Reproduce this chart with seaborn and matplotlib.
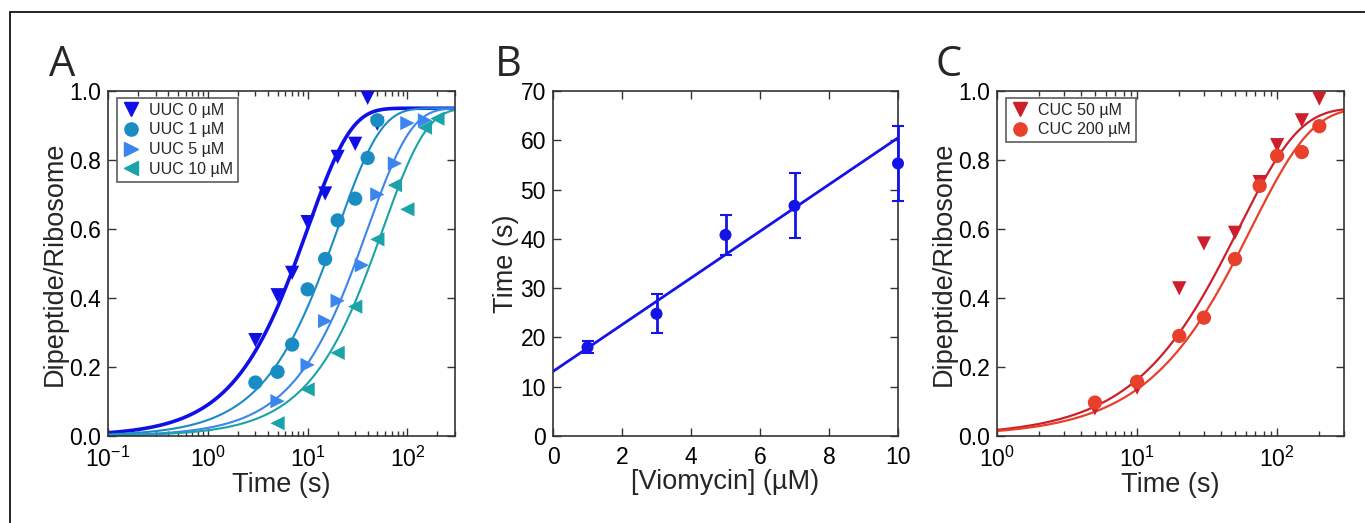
import numpy as np
import pandas as pd
import matplotlib
matplotlib.use("Agg")
import matplotlib.pyplot as plt
from matplotlib.lines import Line2D
from matplotlib.ticker import LogLocator, NullFormatter, MultipleLocator
import seaborn as sns

# ---------------- data ----------------
# Panel A: dipeptide formation at UUC codon with viomycin
uuc0_t = [3, 5, 7, 10, 15, 20, 30, 40, 50]
uuc0_y = [0.278, 0.408, 0.473, 0.620, 0.703, 0.809, 0.847, 0.980, 0.905]
uuc1_t = [3, 5, 7, 10, 15, 20, 30, 40, 50]
uuc1_y = [0.155, 0.186, 0.265, 0.425, 0.513, 0.625, 0.688, 0.806, 0.915]
uuc5_t = [5, 10, 15, 20, 35, 50, 75, 100, 150]
uuc5_y = [0.101, 0.206, 0.333, 0.392, 0.495, 0.700, 0.790, 0.907, 0.915]
uuc10_t = [5, 10, 20, 30, 50, 75, 100, 150, 200]
uuc10_y = [0.037, 0.135, 0.241, 0.375, 0.570, 0.727, 0.657, 0.894, 0.920]
# fitted single-exponential time constants (s) and plateau
uuc_tau = [10.0, 20.0, 40.0, 57.0]
plateau = 0.95

# Panel B: time constant vs viomycin concentration
vio_conc = [1, 3, 5, 7, 10]
vio_time = [18.0, 24.8, 40.8, 46.7, 55.3]
vio_err = [1.2, 4.0, 4.0, 6.6, 7.6]
fit_intercept = 13.1
fit_slope = 4.74

# Panel C: near-cognate CUC codon
cuc50_t = [5, 10, 20, 30, 50, 75, 100, 150, 200]
cuc50_y = [0.080, 0.140, 0.428, 0.558, 0.589, 0.736, 0.843, 0.915, 0.978]
cuc200_t = [5, 10, 20, 30, 50, 75, 100, 150, 200]
cuc200_y = [0.097, 0.157, 0.290, 0.343, 0.513, 0.725, 0.812, 0.823, 0.898]
cuc_tau = [53.0, 65.0]

# ---------------- style ----------------
sns.set_theme(style="ticks")
plt.rcParams["font.family"] = ["Liberation Sans", "DejaVu Sans"]
plt.rcParams.update({
    "mathtext.fontset": "custom",
    "mathtext.rm": "Liberation Sans",
    "mathtext.it": "Liberation Sans:italic",
    "mathtext.bf": "Liberation Sans:bold",
    "axes.unicode_minus": False,
    "xtick.direction": "in", "ytick.direction": "in",
    "xtick.top": True, "ytick.right": True,
    "xtick.major.size": 6, "ytick.major.size": 6,
    "xtick.minor.size": 3.5, "ytick.minor.size": 3.5,
    "xtick.major.width": 1.0, "ytick.major.width": 1.0,
    "xtick.minor.width": 1.0, "ytick.minor.width": 1.0,
    "xtick.color": "#333333", "ytick.color": "#333333",
    "xtick.labelcolor": "black", "ytick.labelcolor": "black",
    "axes.edgecolor": "#333333", "axes.linewidth": 1.2,
})

fig = plt.figure(figsize=(13.65, 5.23), dpi=100)
W, H = 1365, 523


def add_axes(x0, x1):
    return fig.add_axes([x0 / W, 1 - 436 / H, (x1 - x0) / W, (436 - 91) / H])


axA = add_axes(108, 455)
axB = add_axes(553, 898)
axC = add_axes(997, 1344)

TICK_FS = 16.5
LABEL_FS = 19.5
MS = 105


def expo(t, tau):
    t = np.asarray(t, dtype=float)
    return plateau * (1 - np.exp(-t / tau))


def style_log_axis(ax, xmin, xmax):
    ax.set_xscale("log")
    ax.set_xlim(xmin, xmax)
    ax.set_ylim(0, 1.0)
    ax.xaxis.set_major_locator(LogLocator(base=10, numticks=10))
    ax.xaxis.set_minor_locator(LogLocator(base=10, subs=np.arange(2, 10), numticks=20))
    ax.xaxis.set_minor_formatter(NullFormatter())
    ax.yaxis.set_major_locator(MultipleLocator(0.2))
    ax.set_yticklabels([f"{v:.1f}" for v in ax.get_yticks()])
    ax.tick_params(axis="x", labelsize=TICK_FS, pad=7.5)
    ax.tick_params(axis="y", labelsize=TICK_FS, pad=5)
    ax.set_xlabel("Time (s)", fontsize=LABEL_FS, labelpad=0)
    ax.set_ylabel("Dipeptide/Ribosome", fontsize=LABEL_FS, labelpad=1)


def add_legend(ax, marks, cols, labels):
    handles = [Line2D([], [], ls="none", marker=m, color=c, markersize=9.5)
               for m, c in zip(marks, cols)]
    leg = ax.legend(handles, labels, loc="upper left", fontsize=11.5, frameon=True,
                    fancybox=False, edgecolor="#333333", handletextpad=0.5,
                    borderpad=0.3, labelspacing=0.3, handlelength=1.2,
                    borderaxespad=0, bbox_to_anchor=(0.026, 0.98))
    leg.get_frame().set_linewidth(1.2)
    return leg


# ---------------- panel A ----------------
colA = ["#1010e6", "#1a8cc4", "#3a86ee", "#1aa3a8"]
markA = ["v", "o", ">", "<"]
labA = ["UUC 0 \u00b5M", "UUC 1 \u00b5M", "UUC 5 \u00b5M", "UUC 10 \u00b5M"]
setsA = [(uuc0_t, uuc0_y), (uuc1_t, uuc1_y), (uuc5_t, uuc5_y), (uuc10_t, uuc10_y)]
tA = np.logspace(-1, np.log10(300), 400)
lwA = [2.6, 1.5, 1.5, 1.5]
for c, tau, lw in zip(colA, uuc_tau, lwA):
    sns.lineplot(x=tA, y=expo(tA, tau), color=c, lw=lw, ax=axA,
                 estimator=None, sort=False, legend=False)
for (t, y), c, m in zip(setsA, colA, markA):
    sns.scatterplot(x=t, y=y, marker=m, color=c, s=MS, edgecolor="none",
                    ax=axA, legend=False, zorder=3, clip_on=False)
style_log_axis(axA, 0.1, 300)
add_legend(axA, markA, colA, labA)

# ---------------- panel B ----------------
xB = np.array([0, 10])
sns.lineplot(x=xB, y=fit_intercept + fit_slope * xB, color="#1414e6", lw=2,
             ax=axB, legend=False)
axB.errorbar(vio_conc, vio_time, yerr=vio_err, fmt="none", ecolor="#1414e6",
             elinewidth=2, capsize=4, capthick=1.5, clip_on=False, zorder=3)
sns.scatterplot(x=vio_conc, y=vio_time, color="#1414e6", s=75, edgecolor="none",
                ax=axB, legend=False, zorder=4, clip_on=False)
axB.set_xlim(0, 10)
axB.set_ylim(0, 70)
axB.xaxis.set_major_locator(MultipleLocator(2))
axB.yaxis.set_major_locator(MultipleLocator(10))
axB.tick_params(axis="x", labelsize=TICK_FS, pad=7.5)
axB.tick_params(axis="y", labelsize=TICK_FS, pad=5)
axB.set_xlabel("[Viomycin] (\u00b5M)", fontsize=LABEL_FS, labelpad=0)
axB.set_ylabel("Time (s)", fontsize=LABEL_FS, labelpad=1)

# ---------------- panel C ----------------
colC = ["#cc1f2b", "#e8402a"]
markC = ["v", "o"]
labC = ["CUC 50 \u00b5M", "CUC 200 \u00b5M"]
setsC = [(cuc50_t, cuc50_y), (cuc200_t, cuc200_y)]
tC = np.logspace(0, np.log10(300), 400)
for c, tau in zip(colC, cuc_tau):
    sns.lineplot(x=tC, y=expo(tC, tau), color=c, lw=1.6, ax=axC,
                 estimator=None, sort=False, legend=False)
for (t, y), c, m in zip(setsC, colC, markC):
    sns.scatterplot(x=t, y=y, marker=m, color=c, s=MS, edgecolor="none",
                    ax=axC, legend=False, zorder=3, clip_on=False)
style_log_axis(axC, 1, 300)
add_legend(axC, markC, colC, labC)

# ---------------- panel letters and frame ----------------
for txt, x in [("A", 62), ("B", 508), ("C", 949)]:
    fig.text(x / W, 1 - 65 / H, txt, fontsize=30, ha="center", va="center",
             family=["Open Sans", "DejaVu Sans"])

fig.add_artist(Line2D([10 / W, 1], [1 - 12 / H, 1 - 12 / H], color="black", lw=1.2,
                      transform=fig.transFigure))
fig.add_artist(Line2D([10 / W, 10 / W], [0, 1 - 12 / H], color="black", lw=1.2,
                      transform=fig.transFigure))

fig.savefig("out.png", dpi=100, facecolor="white")
